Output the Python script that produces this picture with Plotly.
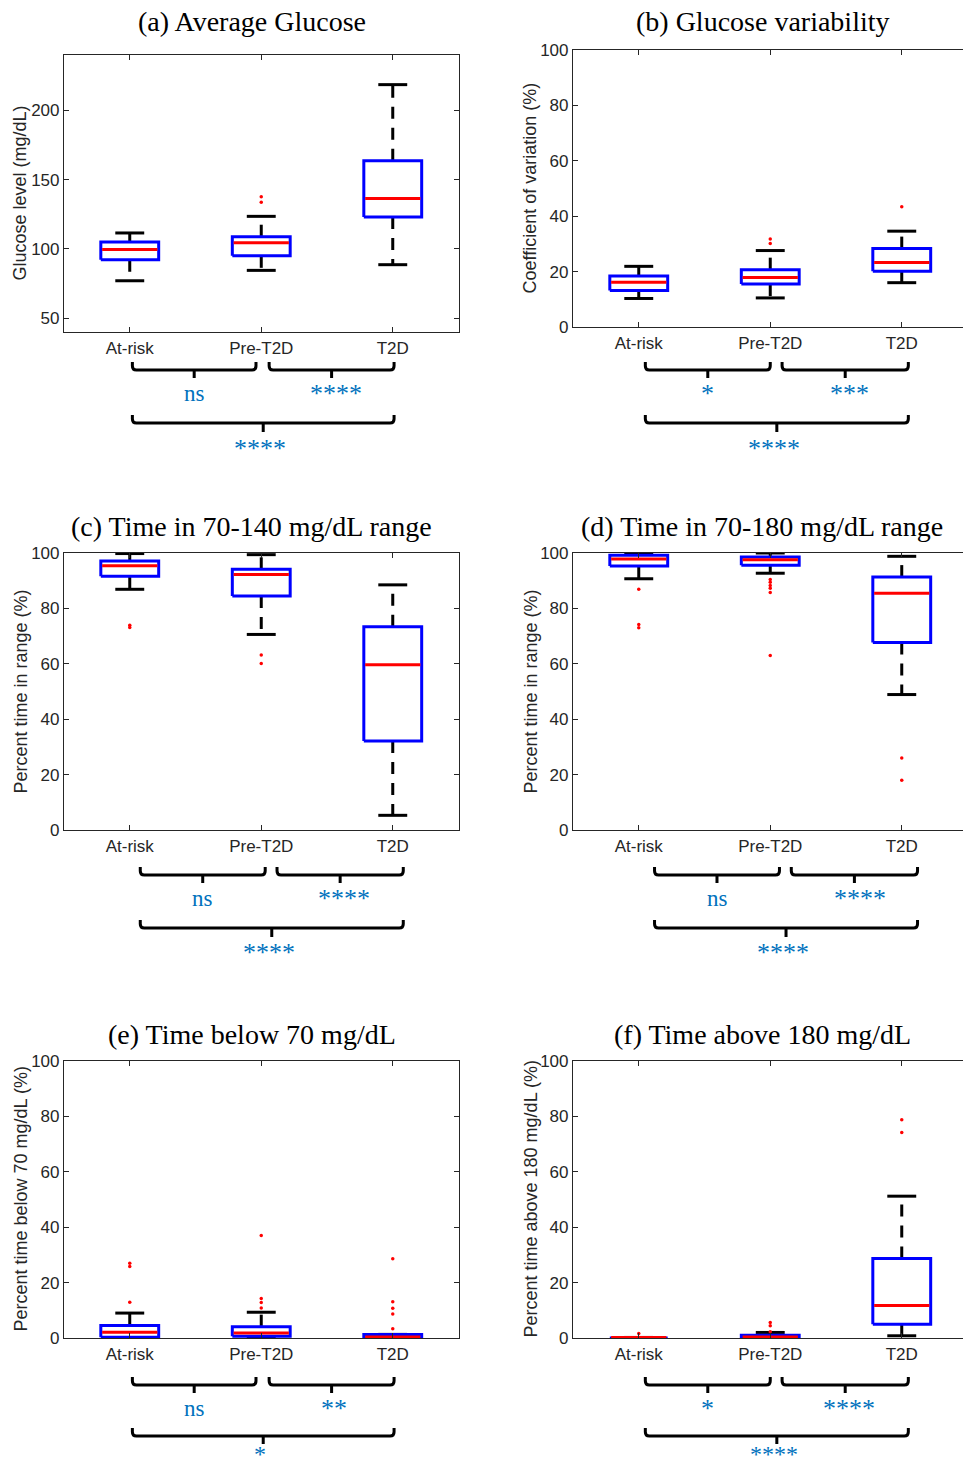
import plotly.graph_objects as go

W, H = 963, 1468

categories = ["At-risk", "Pre-T2D", "T2D"]

# (a) Average glucose (mg/dL)
glu_low = [77.0, 84.5, 88.6]
glu_q1 = [92.2, 95.0, 123.0]
glu_med = [99.6, 104.5, 136.3]
glu_q3 = [105.0, 108.8, 163.6]
glu_high = [111.5, 123.5, 218.6]
glu_out = [[], [133.7, 137.6], []]

# (b) Coefficient of variation (%)
cv_low = [10.3, 10.5, 16.0]
cv_q1 = [13.2, 15.5, 20.1]
cv_med = [16.2, 17.9, 23.3]
cv_q3 = [18.4, 20.7, 28.3]
cv_high = [21.9, 27.6, 34.6]
cv_out = [[], [30.1, 31.8], [43.4]]

# (c) Time in 70-140 mg/dL (%)
tir140_low = [86.9, 70.6, 5.3]
tir140_q1 = [91.6, 84.5, 32.1]
tir140_med = [95.4, 92.2, 59.7]
tir140_q3 = [97.1, 94.1, 73.4]
tir140_high = [99.8, 99.4, 88.5]
tir140_out = [[73.1, 73.9], [60.1, 63.2], []]

# (d) Time in 70-180 mg/dL (%)
tir180_low = [90.7, 92.7, 48.9]
tir180_q1 = [95.3, 95.6, 67.7]
tir180_med = [97.8, 97.6, 85.5]
tir180_q3 = [99.2, 98.6, 91.3]
tir180_high = [100.0, 100.0, 98.8]
tir180_out = [[73.0, 74.2, 86.9], [63.0, 85.7, 87.3, 88.3, 89.4, 90.4], [18.0, 26.0]]

# (e) Time below 70 mg/dL (%)
tbr_low = [0.0, 0.0, 0.0]
tbr_q1 = [0.3, 0.6, 0.0]
tbr_med = [2.1, 1.8, 0.4]
tbr_q3 = [4.5, 4.1, 1.3]
tbr_high = [9.0, 9.3, 1.3]
tbr_out = [[12.9, 25.8, 27.0], [10.8, 12.8, 14.3, 37.0], [3.3, 8.7, 10.7, 13.1, 28.6]]

# (f) Time above 180 mg/dL (%)
tar_low = [0.0, 0.0, 0.8]
tar_q1 = [0.0, 0.0, 5.0]
tar_med = [0.2, 0.4, 11.7]
tar_q3 = [0.2, 1.0, 28.7]
tar_high = [0.2, 2.0, 51.2]
tar_out = [[1.6], [2.3, 4.4, 5.6], [74.2, 78.8]]

# significance labels: [group1 vs group2, group2 vs group3, group1 vs group3]
sig_a = ["ns", "****", "****"]
sig_b = ["*", "***", "****"]
sig_c = ["ns", "****", "****"]
sig_d = ["ns", "****", "****"]
sig_e = ["ns", "**", "*"]
sig_f = ["*", "****", "****"]

titles = ["(a) Average Glucose", "(b) Glucose variability",
          "(c) Time in 70-140 mg/dL range", "(d) Time in 70-180 mg/dL range",
          "(e) Time below 70 mg/dL", "(f) Time above 180 mg/dL"]
ytitles = ["Glucose level (mg/dL)", "Coefficient of variation (%)",
           "Percent time in range (%)", "Percent time in range (%)",
           "Percent time below 70 mg/dL (%)", "Percent time above 180 mg/dL (%)"]

stats = [
    (glu_low, glu_q1, glu_med, glu_q3, glu_high, glu_out, sig_a),
    (cv_low, cv_q1, cv_med, cv_q3, cv_high, cv_out, sig_b),
    (tir140_low, tir140_q1, tir140_med, tir140_q3, tir140_high, tir140_out, sig_c),
    (tir180_low, tir180_q1, tir180_med, tir180_q3, tir180_high, tir180_out, sig_d),
    (tbr_low, tbr_q1, tbr_med, tbr_q3, tbr_high, tbr_out, sig_e),
    (tar_low, tar_q1, tar_med, tar_q3, tar_high, tar_out, sig_f),
]

# ---------------- layout geometry (pixels) ----------------
# plot boxes: (left, right, top, bottom)
boxes = [(64, 459, 55, 332), (573, 963, 50, 327),
         (64, 459, 553, 830), (573, 963, 553, 830),
         (64, 459, 1061, 1338), (573, 963, 1061, 1338)]
yranges = [[40, 240], [0, 100], [0, 100], [0, 100], [0, 100], [0, 100]]
ytickvals = [[50, 100, 150, 200]] + [[0, 20, 40, 60, 80, 100]] * 5
title_pos = [(252, 21), (762, 21), (252, 526), (762, 526), (252, 1034), (762, 1034)]
ytitle_x = [20, 530, 20, 530, 20, 530]
# bracket x extents (data units): small1, small2 (big spans both)
br_x = [((1.02, 1.96), (2.06, 3.01)), ((1.05, 2.00), (2.09, 3.05)),
        ((1.08, 2.03), (2.12, 3.08)), ((1.12, 2.07), (2.16, 3.12)),
        ((1.02, 1.96), (2.06, 3.01)), ((1.05, 2.00), (2.09, 3.05))]
# bracket rows (px): hook top, line, tick bottom (small), same (big)
br_y = [((362, 370, 378), (415, 423, 432)), ((362, 370, 378), (415, 423, 432)),
        ((867, 875, 883), (920, 928, 937)), ((867, 875, 883), (920, 928, 937)),
        ((1377, 1385, 1393), (1428, 1436, 1444)), ((1377, 1385, 1393), (1428, 1436, 1444))]
# label positions: (x data, y px, font size) for small1, small2, big
lab_pos = [((1.49, 393, 23), (2.57, 393, 26), (1.99, 448, 26)),
           ((1.52, 393, 26), (2.60, 393, 26), (2.03, 448, 26)),
           ((1.55, 898, 23), (2.63, 898, 26), (2.06, 953, 26)),
           ((1.60, 898, 23), (2.68, 898, 26), (2.10, 953, 26)),
           ((1.49, 1408, 23), (2.55, 1408, 26), (1.99, 1454, 24)),
           ((1.52, 1408, 26), (2.60, 1408, 26), (2.03, 1454, 24))]

BOX_HW = 0.22
MED_HW = 0.21
CAP_HW = 0.11
AX = "#262626"
SIGC = "#0072BD"
SANS = "Liberation Sans, Arial, Helvetica, sans-serif"
SERIF = "Liberation Serif, Times New Roman, serif"


def py(p):
    return 1 - p / H


fig = go.Figure()
annotations = []
shapes = []

for k, (lo, q1, md, q3, hi, outs, sig) in enumerate(stats):
    xa = "x" if k == 0 else f"x{k + 1}"
    ya = "y" if k == 0 else f"y{k + 1}"
    common = dict(xaxis=xa, yaxis=ya, hoverinfo="skip", showlegend=False)
    for g in range(len(categories)):
        c = g + 1
        # whiskers (dashed)
        fig.add_trace(go.Scatter(x=[c, c], y=[q3[g], hi[g]], mode="lines",
                                 line=dict(color="black", width=3, dash="12px,9px"), **common))
        fig.add_trace(go.Scatter(x=[c, c], y=[q1[g], lo[g]], mode="lines",
                                 line=dict(color="black", width=3, dash="12px,9px"), **common))
        # caps
        fig.add_trace(go.Scatter(x=[c - CAP_HW, c + CAP_HW], y=[hi[g], hi[g]], mode="lines",
                                 line=dict(color="black", width=3), **common))
        fig.add_trace(go.Scatter(x=[c - CAP_HW, c + CAP_HW], y=[lo[g], lo[g]], mode="lines",
                                 line=dict(color="black", width=3), **common))
        # box
        fig.add_trace(go.Scatter(x=[c - BOX_HW, c + BOX_HW, c + BOX_HW, c - BOX_HW, c - BOX_HW],
                                 y=[q1[g], q1[g], q3[g], q3[g], q1[g]], mode="lines",
                                 line=dict(color="#0000FF", width=3), **common))
        # median
        fig.add_trace(go.Scatter(x=[c - MED_HW, c + MED_HW], y=[md[g], md[g]], mode="lines",
                                 line=dict(color="#FF0000", width=3), **common))
        # outliers
        if outs[g]:
            fig.add_trace(go.Scatter(x=[c] * len(outs[g]), y=outs[g], mode="markers",
                                     marker=dict(color="#FF0000", size=3.5), cliponaxis=False,
                                     **common))

    left, right, top, bottom = boxes[k]
    is_right = left > W / 2
    xr = [0.5, 0.5 + (right - left) / 131.5]
    axkey = "xaxis" if k == 0 else f"xaxis{k + 1}"
    aykey = "yaxis" if k == 0 else f"yaxis{k + 1}"
    fig.layout[axkey] = dict(
        domain=[left / W, right / W], range=xr, anchor=ya, automargin=False,
        tickmode="array", tickvals=[1, 2, 3], ticktext=categories,
        ticks="inside", ticklen=5, tickwidth=1, tickcolor=AX,
        showline=True, linecolor=AX, linewidth=1.2, mirror="allticks",
        showgrid=False, zeroline=False, fixedrange=True,
        tickfont=dict(family=SANS, size=17, color=AX))
    fig.layout[aykey] = dict(
        domain=[py(bottom), py(top)], range=yranges[k], anchor=xa, automargin=False,
        tickmode="array", tickvals=ytickvals[k],
        ticks="inside", ticklen=5, tickwidth=1, tickcolor=AX,
        showline=True, linecolor=AX, linewidth=1.2,
        mirror=False if is_right else "allticks",
        showgrid=False, zeroline=False, fixedrange=True,
        tickfont=dict(family=SANS, size=17, color=AX))

    # panel titles and y-axis titles
    tx, ty = title_pos[k]
    annotations.append(dict(text=titles[k], x=tx / W, y=py(ty), xref="paper", yref="paper",
                            showarrow=False, xanchor="center", yanchor="middle",
                            font=dict(family=SERIF, size=28, color="black")))
    annotations.append(dict(text=ytitles[k], x=ytitle_x[k] / W, y=py((top + bottom) / 2),
                            xref="paper", yref="paper", textangle=-90, showarrow=False,
                            xanchor="center", yanchor="middle",
                            font=dict(family=SANS, size=18, color=AX)))

    # significance brackets
    (s1, s2) = br_x[k]
    spans = [s1, s2, (s1[0], s2[1])]
    rows = [br_y[k][0], br_y[k][0], br_y[k][1]]
    for (x0, x1), (yh, yl, yt), txt, (lx, ly, fs) in zip(spans, rows, sig, lab_pos[k]):
        Yh, Yl, Yt = py(yh), py(yl), py(yt)
        rx, ry = 0.03, 4 / H
        xm = (x0 + x1) / 2
        path = (f"M {x0},{Yh} L {x0},{Yl + ry} Q {x0},{Yl} {x0 + rx},{Yl} "
                f"L {x1 - rx},{Yl} Q {x1},{Yl} {x1},{Yl + ry} L {x1},{Yh} "
                f"M {xm},{Yl} L {xm},{Yt}")
        shapes.append(dict(type="path", path=path, xref=xa, yref="paper",
                           line=dict(color="black", width=3)))
        annotations.append(dict(text=txt, x=lx, y=py(ly), xref=xa, yref="paper",
                                showarrow=False, xanchor="center", yanchor="middle",
                                borderpad=0,
                                font=dict(family=SERIF, size=fs, color=SIGC)))

fig.update_layout(
    width=W, height=H, autosize=False,
    margin=dict(l=0, r=0, t=0, b=0, pad=0, autoexpand=False),
    paper_bgcolor="white", plot_bgcolor="white",
    showlegend=False,
    annotations=annotations, shapes=shapes,
)

fix_page = (
    "document.documentElement.style.margin='0';"
    "document.body.style.margin='0';"
    "document.body.style.padding='0';"
)
fig.write_html("out.html", config={"displayModeBar": False}, post_script=fix_page)
